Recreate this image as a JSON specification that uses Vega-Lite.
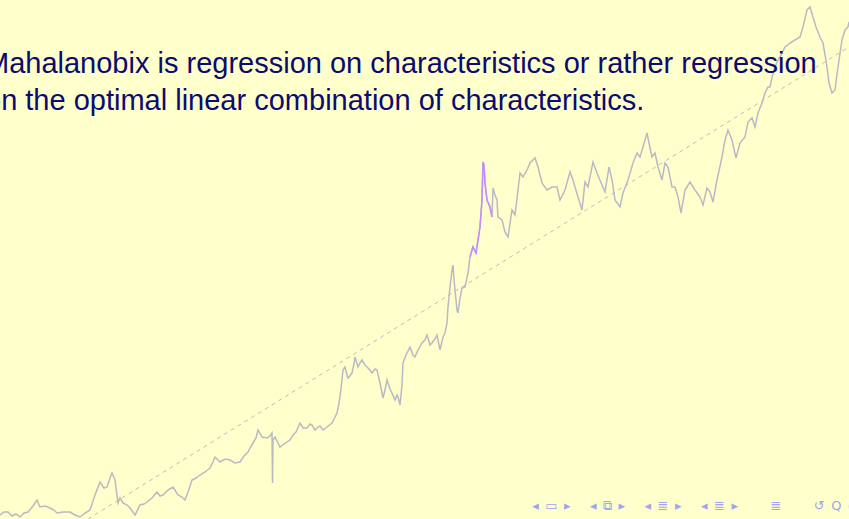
{
  "$schema": "https://vega.github.io/schema/vega-lite/v6.json",
  "width": 849,
  "height": 519,
  "padding": 0,
  "autosize": {"type": "none"},
  "background": "#FFFFCC",
  "config": {"view": {"stroke": null}},
  "title": {
    "text": ["Mahalanobix is regression on characteristics or rather regression", "on the optimal linear combination of characteristics."],
    "orient": "top",
    "anchor": "start",
    "frame": "group",
    "font": "Liberation Sans",
    "fontSize": 29,
    "fontWeight": "normal",
    "color": "#0B0B70",
    "lineHeight": 37,
    "dx": -15,
    "offset": -116
  },
  "datasets": {
    "price": [
      {"t":0,"p":4},{"t":4,"p":7},{"t":8,"p":7},{"t":12,"p":3},{"t":16,"p":5},{"t":20,"p":2},{"t":24,"p":6},{"t":28,"p":7},{"t":33,"p":13},{"t":37,"p":19},{"t":40,"p":12},{"t":45,"p":13},{"t":50,"p":11},{"t":54,"p":9},{"t":57,"p":6},{"t":63,"p":7},{"t":70,"p":7},{"t":75,"p":4},{"t":80,"p":2},{"t":85,"p":6},{"t":90,"p":9},{"t":95,"p":24},{"t":100,"p":37},{"t":104,"p":31},{"t":107,"p":32},{"t":110,"p":41},{"t":112,"p":46},{"t":115,"p":39},{"t":118,"p":16},{"t":120,"p":21},{"t":123,"p":16},{"t":127,"p":14},{"t":130,"p":11},{"t":135,"p":4},{"t":140,"p":14},{"t":144,"p":15},{"t":147,"p":17},{"t":152,"p":21},{"t":157,"p":27},{"t":160,"p":23},{"t":163,"p":24},{"t":168,"p":29},{"t":173,"p":32},{"t":178,"p":24},{"t":182,"p":22},{"t":185,"p":19},{"t":188,"p":27},{"t":192,"p":39},{"t":196,"p":41},{"t":200,"p":44},{"t":205,"p":47},{"t":210,"p":51},{"t":213,"p":57},{"t":215,"p":62},{"t":218,"p":59},{"t":220,"p":57},{"t":225,"p":60},{"t":230,"p":59},{"t":235,"p":56},{"t":240,"p":57},{"t":244,"p":63},{"t":248,"p":67},{"t":250,"p":71},{"t":253,"p":76},{"t":256,"p":81},{"t":258,"p":89},{"t":262,"p":82},{"t":267,"p":81},{"t":270,"p":83},{"t":272,"p":86},{"t":272.5,"p":36},{"t":273,"p":79},{"t":275,"p":82},{"t":278,"p":76},{"t":280,"p":72},{"t":284,"p":75},{"t":287,"p":77},{"t":290,"p":79},{"t":293,"p":84},{"t":296,"p":87},{"t":300,"p":96},{"t":303,"p":91},{"t":307,"p":91},{"t":310,"p":95},{"t":312,"p":94},{"t":315,"p":89},{"t":317,"p":91},{"t":320,"p":93},{"t":323,"p":89},{"t":327,"p":92},{"t":332,"p":96},{"t":335,"p":102},{"t":337,"p":106},{"t":339,"p":116},{"t":340,"p":122},{"t":342,"p":139},{"t":343,"p":149},{"t":345,"p":152},{"t":347,"p":144},{"t":348,"p":141},{"t":350,"p":143},{"t":352,"p":146},{"t":354,"p":155},{"t":355,"p":162},{"t":358,"p":152},{"t":360,"p":156},{"t":362,"p":159},{"t":365,"p":154},{"t":367,"p":152},{"t":370,"p":149},{"t":372,"p":146},{"t":375,"p":150},{"t":377,"p":149},{"t":380,"p":136},{"t":383,"p":121},{"t":385,"p":129},{"t":387,"p":139},{"t":390,"p":130},{"t":392,"p":126},{"t":395,"p":119},{"t":397,"p":124},{"t":398,"p":122},{"t":400,"p":114},{"t":402,"p":134},{"t":403,"p":156},{"t":406,"p":164},{"t":410,"p":172},{"t":413,"p":164},{"t":415,"p":162},{"t":418,"p":169},{"t":422,"p":176},{"t":425,"p":179},{"t":427,"p":184},{"t":430,"p":174},{"t":432,"p":176},{"t":435,"p":180},{"t":437,"p":184},{"t":440,"p":169},{"t":443,"p":182},{"t":445,"p":186},{"t":447,"p":196},{"t":448,"p":212},{"t":450,"p":232},{"t":452,"p":249},{"t":453,"p":254},{"t":454,"p":239},{"t":455,"p":229},{"t":457,"p":209},{"t":458,"p":206},{"t":460,"p":221},{"t":462,"p":231},{"t":465,"p":232},{"t":468,"p":246},{"t":470,"p":262},{"t":472,"p":269},{"t":473,"p":272},{"t":476,"p":266},{"t":478,"p":279},{"t":480,"p":292},{"t":482,"p":319},{"t":483,"p":357},{"t":484,"p":354},{"t":485,"p":336},{"t":487,"p":319},{"t":490,"p":312},{"t":492,"p":302},{"t":493,"p":331},{"t":495,"p":324},{"t":497,"p":319},{"t":498,"p":302},{"t":502,"p":299},{"t":505,"p":287},{"t":508,"p":282},{"t":512,"p":309},{"t":515,"p":304},{"t":518,"p":329},{"t":520,"p":346},{"t":523,"p":342},{"t":527,"p":349},{"t":530,"p":356},{"t":535,"p":361},{"t":538,"p":352},{"t":542,"p":336},{"t":547,"p":329},{"t":552,"p":332},{"t":557,"p":332},{"t":560,"p":319},{"t":565,"p":329},{"t":570,"p":347},{"t":573,"p":339},{"t":575,"p":332},{"t":578,"p":322},{"t":582,"p":309},{"t":585,"p":337},{"t":588,"p":332},{"t":593,"p":357},{"t":597,"p":346},{"t":602,"p":334},{"t":605,"p":327},{"t":609,"p":352},{"t":612,"p":339},{"t":615,"p":319},{"t":620,"p":312},{"t":623,"p":326},{"t":628,"p":339},{"t":633,"p":356},{"t":637,"p":366},{"t":640,"p":362},{"t":643,"p":372},{"t":647,"p":386},{"t":649,"p":376},{"t":652,"p":362},{"t":655,"p":366},{"t":658,"p":352},{"t":662,"p":339},{"t":665,"p":356},{"t":668,"p":352},{"t":672,"p":332},{"t":675,"p":332},{"t":678,"p":322},{"t":681,"p":306},{"t":685,"p":329},{"t":690,"p":337},{"t":695,"p":329},{"t":700,"p":322},{"t":703,"p":314},{"t":707,"p":331},{"t":710,"p":327},{"t":713,"p":317},{"t":717,"p":339},{"t":722,"p":362},{"t":725,"p":379},{"t":728,"p":389},{"t":732,"p":379},{"t":736,"p":361},{"t":740,"p":376},{"t":745,"p":382},{"t":748,"p":397},{"t":752,"p":401},{"t":755,"p":392},{"t":758,"p":406},{"t":762,"p":416},{"t":765,"p":426},{"t":768,"p":432},{"t":770,"p":432},{"t":772,"p":442},{"t":775,"p":452},{"t":778,"p":459},{"t":780,"p":462},{"t":785,"p":472},{"t":790,"p":476},{"t":795,"p":479},{"t":800,"p":482},{"t":803,"p":492},{"t":807,"p":509},{"t":810,"p":512},{"t":813,"p":502},{"t":816,"p":492},{"t":820,"p":482},{"t":823,"p":476},{"t":827,"p":452},{"t":829,"p":436},{"t":832,"p":426},{"t":835,"p":429},{"t":838,"p":452},{"t":842,"p":479},{"t":845,"p":489},{"t":848,"p":492},{"t":849,"p":497}
    ],
    "trend": [
      {"t": 88, "p": 0},
      {"t": 849, "p": 472}
    ]
  },
  "encoding": {
    "x": {
      "field": "t", "type": "quantitative",
      "scale": {"domain": [0, 849], "nice": false, "zero": false},
      "axis": {
        "title": "◂\u2002▭\u2002▸\u2003\u2002◂\u2002⧉\u2002▸\u2003\u2002◂\u2002≣\u2002▸\u2003\u2002◂\u2002≣\u2002▸\u2003\u2003\u2002≣\u2003\u2003\u2002↺\u2002Q\u2002◯",
        "domain": false, "ticks": false, "labels": false, "grid": false,
        "titleFont": "DejaVu Sans", "titleFontSize": 13, "titleFontWeight": "normal",
        "titleColor": "#A3A3F0", "titleAlign": "right", "titleAnchor": "end",
        "titleX": 862, "titleY": -14, "titleBaseline": "middle"
      }
    },
    "y": {"field": "p", "type": "quantitative", "scale": {"domain": [0, 519], "nice": false, "zero": false}, "axis": null}
  },
  "layer": [
    {
      "data": {"name": "trend"},
      "mark": {"type": "line", "color": "#BDBDBD", "strokeWidth": 1, "strokeDash": [4, 4], "clip": true}
    },
    {
      "data": {"name": "price"},
      "mark": {"type": "line", "color": "#B9B9C6", "strokeWidth": 1.5, "clip": true}
    },
    {
      "data": {"name": "price"},
      "transform": [{"filter": "datum.t >= 470 && datum.t <= 492"}],
      "mark": {"type": "line", "color": "#C58CFF", "strokeWidth": 1.5, "clip": true}
    }
  ]
}
